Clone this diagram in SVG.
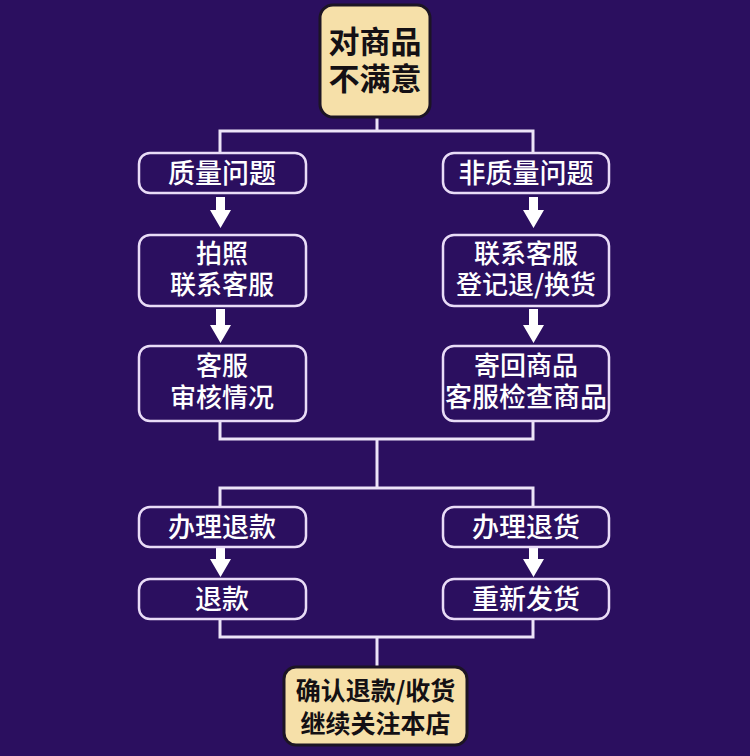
<svg xmlns="http://www.w3.org/2000/svg" width="750" height="756" viewBox="0 0 750 756">
<defs>
<style>
.box{fill:none;stroke:#e9dcf7;stroke-width:2.5}
.key{fill:#f6e0a9;stroke:#1c1424;stroke-width:3}
.t{font-family:"Noto Sans CJK SC","Noto Sans",sans-serif;font-size:27px;font-weight:500;fill:#ffffff;text-anchor:middle}
.t2{font-size:26px}
.k{font-family:"Noto Sans CJK SC","Noto Sans",sans-serif;font-weight:700;fill:#141014;text-anchor:middle}
.ln{fill:none;stroke:#ece4f7;stroke-width:3}
.ar{fill:#ffffff}
</style>
</defs>
<rect width="750" height="756" fill="#2b0f5f"/>
<g id="connectors">
<path class="ln" d="M377 116 V131 M220 153 V131 H533 V153"/>
<path class="ln" d="M220 421 V439 H533 V421 M377 439 V488 M220 507 V488 H533 V507"/>
<path class="ln" d="M220 619 V637 H533 V619 M377 637 V667"/>
<path class="ar" d="M216 197 H225 V210 H231 L220.5 228 L210 210 H216 Z"/>
<path class="ar" d="M216 309 H225 V325 H231 L220.5 343 L210 325 H216 Z"/>
<path class="ar" d="M216 548 H225 V559 H231 L220.5 577 L210 559 H216 Z"/>
<path class="ar" d="M529 197 H538 V210 H544 L533.5 228 L523 210 H529 Z"/>
<path class="ar" d="M529 309 H538 V325 H544 L533.5 343 L523 325 H529 Z"/>
<path class="ar" d="M529 548 H538 V559 H544 L533.5 577 L523 559 H529 Z"/>
</g>
<g id="n0"><rect class="key" x="320" y="5" width="110" height="112" rx="13"/>
<text class="k" x="375" y="53" font-size="31">对商品</text>
<text class="k" x="375" y="90" font-size="31">不满意</text></g>
<g id="n1"><rect class="box" x="139" y="153" width="167" height="40" rx="11"/>
<text class="t" x="222" y="183">质量问题</text></g>
<g id="n2"><rect class="box" x="139" y="235" width="167" height="71" rx="11"/>
<text class="t t2" x="222" y="263">拍照</text>
<text class="t t2" x="222" y="294">联系客服</text></g>
<g id="n3"><rect class="box" x="139" y="346" width="167" height="75" rx="11"/>
<text class="t t2" x="222" y="375">客服</text>
<text class="t t2" x="222" y="407">审核情况</text></g>
<g id="n4"><rect class="box" x="443" y="153" width="166" height="40" rx="11"/>
<text class="t" x="526" y="183">非质量问题</text></g>
<g id="n5"><rect class="box" x="443" y="235" width="166" height="71" rx="11"/>
<text class="t t2" x="526" y="263">联系客服</text>
<text class="t t2" x="526" y="294">登记退/换货</text></g>
<g id="n6"><rect class="box" x="443" y="346" width="166" height="75" rx="11"/>
<text class="t t2" x="526" y="375">寄回商品</text>
<text class="t" x="526" y="407" font-size="25">客服检查商品</text></g>
<g id="n7"><rect class="box" x="139" y="507" width="167" height="40" rx="11"/>
<text class="t" x="222" y="537">办理退款</text></g>
<g id="n8"><rect class="box" x="139" y="579" width="167" height="40" rx="11"/>
<text class="t" x="222" y="609">退款</text></g>
<g id="n9"><rect class="box" x="443" y="507" width="166" height="40" rx="11"/>
<text class="t" x="526" y="537">办理退货</text></g>
<g id="n10"><rect class="box" x="443" y="579" width="166" height="40" rx="11"/>
<text class="t" x="526" y="609">重新发货</text></g>
<g id="n11"><rect class="key" x="284" y="667" width="183" height="78" rx="12"/>
<text class="k" x="375.5" y="700" font-size="25">确认退款/收货</text>
<text class="k" x="375.5" y="733" font-size="25">继续关注本店</text></g>
</svg>
